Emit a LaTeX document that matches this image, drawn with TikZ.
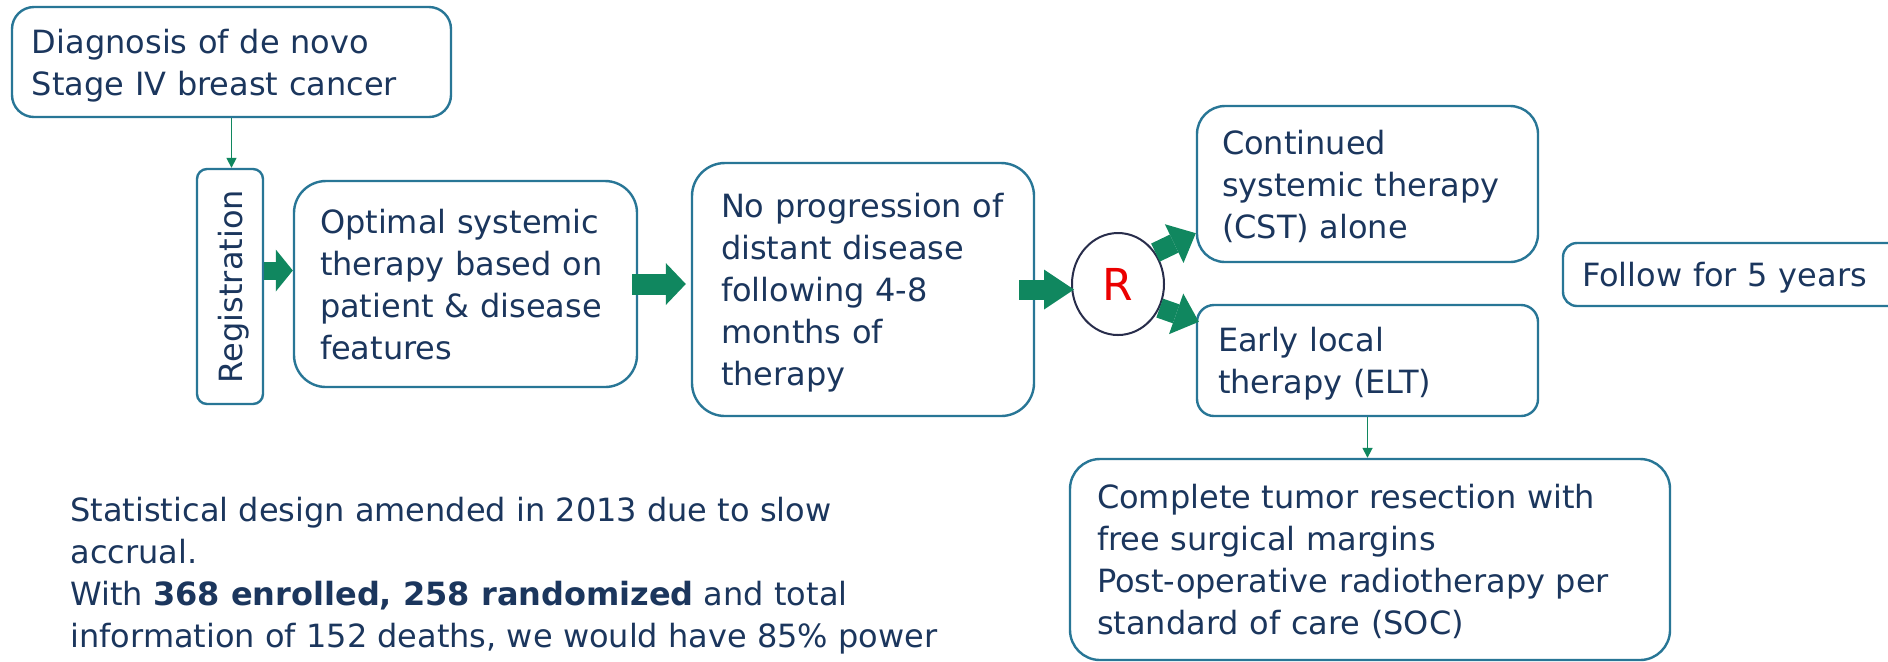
\documentclass[tikz,border=0pt]{standalone}
\usepackage{fontspec}
\setmainfont{DejaVu Sans}
\usepackage{graphicx}
\usetikzlibrary{arrows.meta,shapes.geometric}
\definecolor{boxc}{RGB}{40,118,150}
\definecolor{txtc}{RGB}{27,54,93}
\definecolor{arrc}{RGB}{16,135,95}
\definecolor{circc}{RGB}{40,45,75}
\definecolor{rred}{RGB}{235,0,0}
\begin{document}
\begin{tikzpicture}[x=0.5pt,y=-0.5pt,
  font=\fontsize{16}{21}\selectfont, text=txtc,
  rbox/.style={draw=boxc, line width=1.2pt, fill=white, align=left, inner ysep=0pt},
  thinarr/.style={draw=arrc, line width=0.8pt, -{Triangle[length=5pt,width=5pt]}},
  bigarr/.style n args={3}{draw=arrc, line width=#1, -{Triangle[length=#2,width=#3,line width=0pt]}}
]
\useasboundingbox (0,0) rectangle (1888,661);
\fill[white] (0,0) rectangle (1888,661);
\clip (0,0) rectangle (1888,661);

\node[rbox, text depth=21pt, rounded corners=11pt, minimum width=219.5pt, minimum height=55pt, text width=199.5pt, inner xsep=10pt] (diag) at (231.5,62) {Diagnosis of de novo\\Stage IV breast cancer};

\node[rbox, text depth=0pt, rounded corners=5pt, minimum width=33pt, minimum height=117.5pt, inner xsep=0pt, align=center] (reg) at (230,286.5) {\rotatebox{90}{\raisebox{0pt}[\height][0pt]{Registration}}};

\node[rbox, text depth=63pt, rounded corners=16pt, minimum width=171.5pt, minimum height=103pt, text width=145.5pt, inner xsep=13pt] (opt) at (465.5,284) {Optimal systemic\\therapy based on\\patient \& disease\\features};

\node[rbox, text depth=84pt, rounded corners=16.5pt, minimum width=171pt, minimum height=126.5pt, text width=142pt, inner xsep=14.5pt] (noprog) at (863,289.5) {\mbox{No progression of}\\distant disease\\following 4-8\\months of\\therapy};

\node[ellipse, draw=circc, line width=1pt, fill=white, minimum width=46pt, minimum height=51pt, inner sep=0pt, text=rred, font=\fontsize{22}{22}\selectfont, text depth=0pt] (R) at (1118,284) {R};

\node[rbox, text depth=42pt, rounded corners=14pt, minimum width=170.5pt, minimum height=78pt, text width=145.5pt, inner xsep=12.5pt] (cst) at (1367.5,184) {Continued\\systemic therapy\\(CST) alone};

\node[rbox, text depth=21pt, rounded corners=8.5pt, minimum width=170.5pt, minimum height=55.5pt, text width=149.5pt, inner xsep=10.5pt] (elt) at (1367.5,360.5) {Early local\\therapy (ELT)};

\node[rbox, text depth=0pt, rounded corners=7pt, minimum width=173.5pt, minimum height=31.5pt, text width=154.5pt, inner xsep=9.5pt] (follow) at (1736.5,274.5) {Follow for 5 years};

\node[rbox, text depth=63pt, rounded corners=15pt, minimum width=300pt, minimum height=100.5pt, text width=273pt, inner xsep=13.5pt] (soc) at (1370,559.5) {Complete tumor resection with\\free surgical margins\\Post-operative radiotherapy per\\standard of care (SOC)};

\node[anchor=south west, align=left, inner sep=0pt, text depth=0pt] (stat) at (70,648) {Statistical design amended in 2013 due to slow\\accrual.\\With \textbf{368 enrolled, 258 randomized} and total\\information of 152 deaths, we would have 85\% power};

\draw[thinarr] (diag.south) -- (diag.south |- reg.north);
\draw[thinarr] (elt.south) -- (elt.south |- soc.north);

\draw[bigarr={9pt}{8.5pt}{21pt}] ([yshift=8pt]reg.east) -- ([yshift=8pt]reg.east -| opt.west);
\draw[bigarr={10.5pt}{10pt}{21pt}] ([xshift=-3pt]opt.east) -- ([xshift=-2.5pt]opt.east -| noprog.west);
\draw[bigarr={10pt}{15pt}{20pt}] ([xshift=-8pt]noprog.east) -- ([xshift=1.5pt]noprog.east -| R.west);
\draw[bigarr={10pt}{12pt}{21.5pt}] (R.40) -- ([yshift=15pt]cst.south west);
\draw[bigarr={10pt}{12pt}{21.5pt}] (R.-30) -- ([xshift=1.5pt,yshift=-9pt]elt.north west);
\end{tikzpicture}
\end{document}
